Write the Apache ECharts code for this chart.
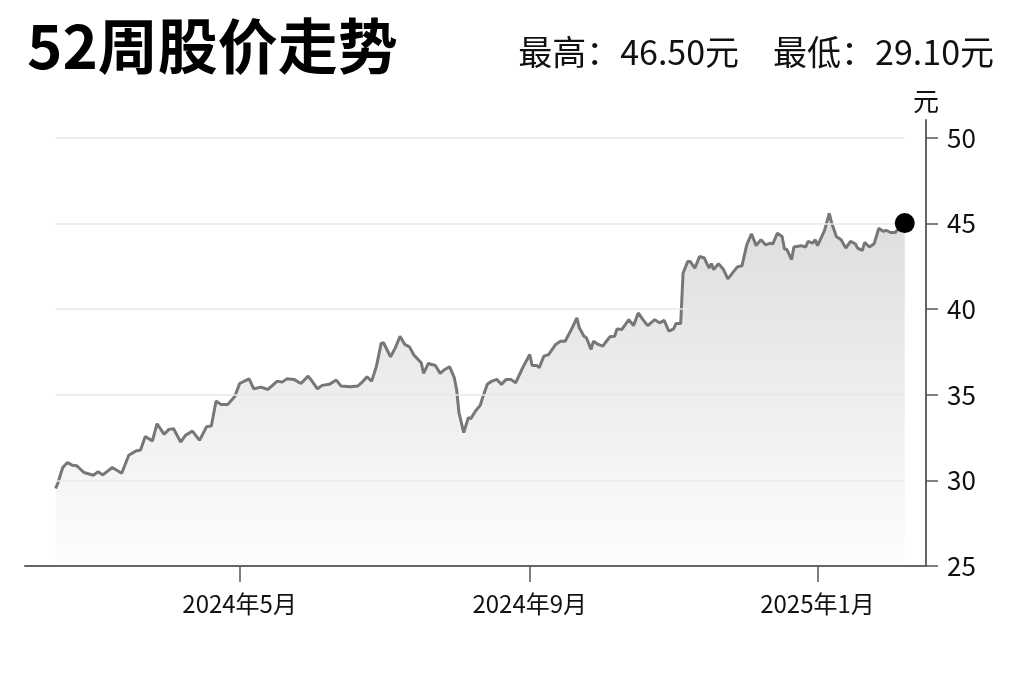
<!DOCTYPE html>
<html>
<head>
<meta charset="utf-8">
<title>52周股价走势</title>
<script src="https://cdn.jsdelivr.net/npm/echarts@6/dist/echarts.min.js"></script>
<style>
  html, body { margin: 0; padding: 0; background: #fff; }
  #main { width: 1024px; height: 682px; }
</style>
</head>
<body>
<div id="main"></div>
<script>
// 数据
const dates = [
  '2024-02-13', '2024-02-14', '2024-02-16', '2024-02-18', '2024-02-20', '2024-02-22', '2024-02-25', '2024-02-29',
  '2024-03-02', '2024-03-04', '2024-03-08', '2024-03-12', '2024-03-15', '2024-03-18', '2024-03-20', '2024-03-22',
  '2024-03-25', '2024-03-27', '2024-03-30', '2024-04-01', '2024-04-03', '2024-04-06', '2024-04-08', '2024-04-11',
  '2024-04-14', '2024-04-17', '2024-04-19', '2024-04-21', '2024-04-23', '2024-04-26', '2024-04-29', '2024-05-01',
  '2024-05-05', '2024-05-07', '2024-05-10', '2024-05-13', '2024-05-17', '2024-05-19', '2024-05-21', '2024-05-24',
  '2024-05-27', '2024-05-30', '2024-05-31', '2024-06-03', '2024-06-05', '2024-06-08', '2024-06-11', '2024-06-13',
  '2024-06-17', '2024-06-20', '2024-06-22', '2024-06-24', '2024-06-26', '2024-06-28', '2024-06-30', '2024-07-01',
  '2024-07-04', '2024-07-06', '2024-07-08', '2024-07-10', '2024-07-12', '2024-07-14', '2024-07-17', '2024-07-18',
  '2024-07-20', '2024-07-23', '2024-07-25', '2024-07-27', '2024-07-29', '2024-07-31', '2024-08-01', '2024-08-02',
  '2024-08-04', '2024-08-06', '2024-08-07', '2024-08-09', '2024-08-11', '2024-08-12', '2024-08-14', '2024-08-16',
  '2024-08-18', '2024-08-20', '2024-08-22', '2024-08-24', '2024-08-26', '2024-08-29', '2024-09-01', '2024-09-02',
  '2024-09-04', '2024-09-05', '2024-09-07', '2024-09-09', '2024-09-12', '2024-09-14', '2024-09-16', '2024-09-19',
  '2024-09-21', '2024-09-22', '2024-09-24', '2024-09-25', '2024-09-27', '2024-09-28', '2024-09-30', '2024-10-02',
  '2024-10-03', '2024-10-05', '2024-10-07', '2024-10-08', '2024-10-10', '2024-10-13', '2024-10-15', '2024-10-17',
  '2024-10-19', '2024-10-21', '2024-10-24', '2024-10-26', '2024-10-28', '2024-10-30', '2024-11-01', '2024-11-02',
  '2024-11-04', '2024-11-05', '2024-11-07', '2024-11-08', '2024-11-10', '2024-11-12', '2024-11-14', '2024-11-16',
  '2024-11-17', '2024-11-18', '2024-11-20', '2024-11-22', '2024-11-24', '2024-11-26', '2024-11-28', '2024-11-30',
  '2024-12-02', '2024-12-04', '2024-12-06', '2024-12-08', '2024-12-10', '2024-12-12', '2024-12-13', '2024-12-15',
  '2024-12-17', '2024-12-18', '2024-12-19', '2024-12-21', '2024-12-22', '2024-12-25', '2024-12-27', '2024-12-28',
  '2024-12-30', '2024-12-31', '2025-01-01', '2025-01-04', '2025-01-06', '2025-01-07', '2025-01-09', '2025-01-11',
  '2025-01-13', '2025-01-15', '2025-01-17', '2025-01-18', '2025-01-20', '2025-01-21', '2025-01-23', '2025-01-25',
  '2025-01-27', '2025-01-29', '2025-01-30', '2025-02-01', '2025-02-03', '2025-02-05', '2025-02-07'
];
const prices = [
  29.53, 29.88, 30.75, 31.04, 30.89, 30.85, 30.46, 30.30,
  30.50, 30.32, 30.75, 30.42, 31.47, 31.72, 31.78, 32.56,
  32.30, 33.31, 32.69, 32.98, 33.02, 32.24, 32.63, 32.88,
  32.34, 33.14, 33.18, 34.64, 34.44, 34.44, 34.92, 35.66,
  35.93, 35.35, 35.45, 35.31, 35.80, 35.74, 35.93, 35.90,
  35.66, 36.09, 35.93, 35.35, 35.55, 35.61, 35.86, 35.51,
  35.47, 35.51, 35.74, 36.05, 35.80, 36.67, 38.00, 38.04,
  37.22, 37.74, 38.42, 37.94, 37.80, 37.30, 36.87, 36.25,
  36.83, 36.71, 36.25, 36.48, 36.64, 36.00, 35.31, 33.95,
  32.79, 33.67, 33.60, 34.05, 34.38, 34.83, 35.61, 35.80,
  35.90, 35.61, 35.90, 35.90, 35.70, 36.58, 37.35, 36.71,
  36.71, 36.58, 37.26, 37.35, 37.94, 38.13, 38.13, 38.91,
  39.49, 38.91, 38.42, 38.33, 37.65, 38.13, 37.94, 37.84,
  38.04, 38.39, 38.42, 38.85, 38.81, 39.39, 39.04, 39.78,
  39.39, 39.04, 39.39, 39.20, 39.35, 38.71, 38.85, 39.16,
  39.16, 42.10, 42.79, 42.79, 42.40, 43.08, 42.99, 42.40,
  42.66, 42.31, 42.66, 42.35, 41.77, 42.12, 42.47, 42.54,
  43.76, 44.40, 43.71, 44.06, 43.76, 43.86, 43.80, 44.44,
  44.25, 43.51, 43.50, 42.89, 43.63, 43.71, 43.63, 43.96,
  43.86, 44.06, 43.71, 44.61, 45.59, 45.04, 44.25, 44.06,
  43.57, 43.96, 43.82, 43.57, 43.43, 43.90, 43.63, 43.82,
  44.73, 44.54, 44.61, 44.48, 44.48, 44.83, 45.03
];
const xRange = ['2024-01-31', '2025-02-16'];
const xTickDates = ['2024-05-01', '2024-09-01', '2025-01-01'];
const yTicks = [25, 30, 35, 40, 45, 50];
const titleText = '52周股价走势';
const statText = '最高：46.50元　最低：29.10元';
const unitText = '元';

const FONT = '"Noto Sans CJK SC", "Noto Sans", sans-serif';
const toTime = s => echarts.time.parse(s).getTime();

const chart = echarts.init(document.getElementById('main'));

const times = dates.map(toTime);
const lineData = times.map((t, i) => [t, prices[i]]);
const lastIdx = dates.length - 1;
const xTicks = xTickDates.map(toTime);

const option = {
  animation: false,
  textStyle: { fontFamily: FONT },
  title: [
    {
      text: titleText,
      left: 22,
      top: 11,
      textStyle: { fontSize: 60, fontWeight: 'bold', color: '#000', fontFamily: FONT }
    },
    {
      text: statText,
      right: 25,
      top: 30,
      textStyle: { fontSize: 34, fontWeight: 'normal', color: '#111', fontFamily: FONT }
    }
  ],
  grid: { left: 25, right: 98, top: 120, bottom: 116, containLabel: false },
  xAxis: {
    type: 'value',
    min: toTime(xRange[0]),
    max: toTime(xRange[1]),
    axisLine: { show: true, lineStyle: { color: '#666', width: 2 } },
    axisTick: {
      show: true,
      customValues: xTicks,
      length: 16,
      lineStyle: { color: '#555', width: 1.5 }
    },
    axisLabel: {
      customValues: xTicks,
      margin: 26,
      fontSize: 24,
      color: '#111',
      formatter: v => {
        const d = new Date(v);
        return d.getFullYear() + '年' + (d.getMonth() + 1) + '月';
      }
    },
    splitLine: { show: false },
    minorTick: { show: false }
  },
  yAxis: {
    type: 'value',
    position: 'right',
    min: 25,
    max: 51.05,
    name: unitText,
    nameLocation: 'end',
    nameGap: 6,
    nameTextStyle: { fontSize: 26, color: '#111', align: 'center' },
    axisLine: { show: true, lineStyle: { color: '#666', width: 2 } },
    axisTick: {
      show: true,
      customValues: yTicks,
      length: 12,
      lineStyle: { color: '#555', width: 1.5 }
    },
    axisLabel: {
      customValues: yTicks,
      margin: 21,
      fontSize: 26,
      color: '#111'
    },
    splitLine: { show: false }
  },
  series: [
    {
      type: 'line',
      data: lineData,
      showSymbol: false,
      lineStyle: { color: '#777', width: 3 },
      areaStyle: {
        color: new echarts.graphic.LinearGradient(0, 0, 0, 1, [
          { offset: 0, color: 'rgba(0,0,0,0.19)' },
          { offset: 1, color: 'rgba(0,0,0,0.01)' }
        ])
      },
      markLine: {
        silent: true,
        symbol: 'none',
        label: { show: false },
        lineStyle: { color: '#e9e9e9', width: 1.5, type: 'solid' },
        data: yTicks.filter(v => v > yTicks[0]).map(v => [
          { coord: [times[0], v] },
          { coord: [times[lastIdx], v] }
        ])
      },
      z: 3
    },
    {
      type: 'scatter',
      data: [[times[lastIdx], prices[lastIdx]]],
      symbolSize: 20,
      itemStyle: { color: '#000', opacity: 1 },
      z: 5
    }
  ]
};

chart.setOption(option);

window.addEventListener('resize', function () {
  chart.resize();
});
</script>
</body>
</html>
